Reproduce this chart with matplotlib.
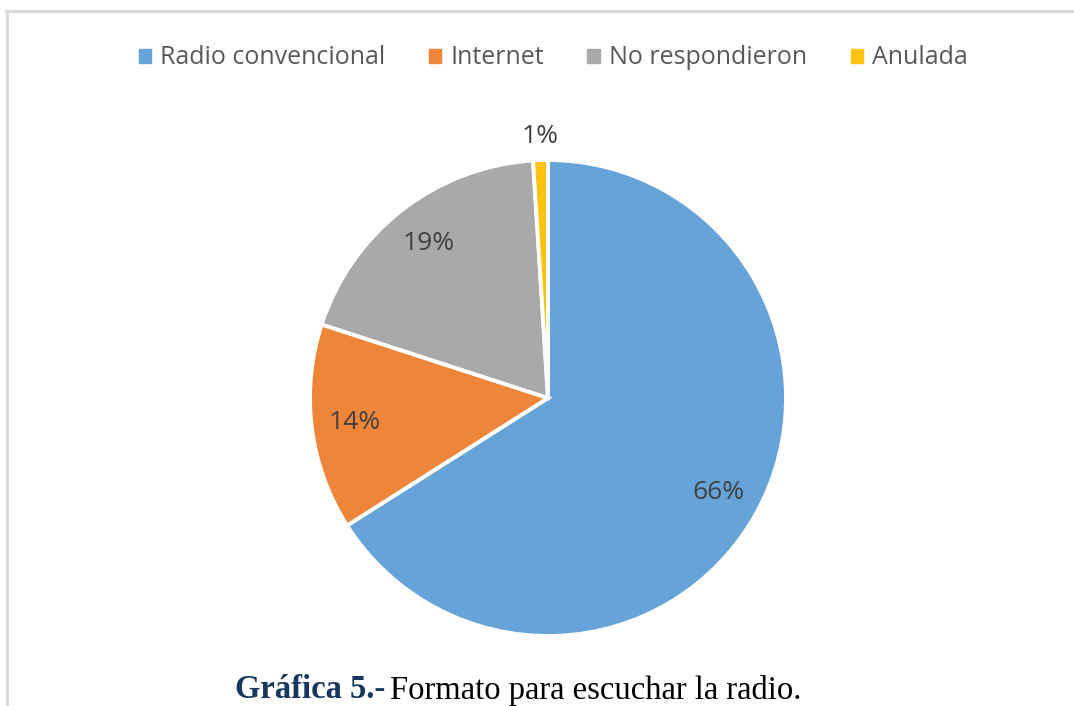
import numpy as np
import matplotlib.pyplot as plt
from matplotlib.lines import Line2D
from matplotlib.patches import Rectangle

categorias = ['Radio convencional', 'Internet', 'No respondieron', 'Anulada']
porcentajes = [66, 14, 19, 1]
colores = ['#66A3D9', '#EE8539', '#A9A9A9', '#FFC20E']

fig = plt.figure(figsize=(10.74, 7.06), dpi=100)
fig.patch.set_facecolor('white')

# marco gris del grafico
fig.add_artist(Line2D([6 / 1074, 1.0], [1 - 11 / 706, 1 - 11 / 706],
                      color='#D9D9D9', lw=2.2, transform=fig.transFigure))
fig.add_artist(Line2D([7.5 / 1074, 7.5 / 1074], [0, 1 - 11 / 706],
                      color='#D9D9D9', lw=2.2, transform=fig.transFigure))

# area del pastel: centro (548, 398), radio ~238 px
r_px = 238
cx, cy = 548, 398
ax = fig.add_axes([(cx - r_px) / 1074, 1 - (cy + r_px) / 706,
                   2 * r_px / 1074, 2 * r_px / 706])
wedges, _ = ax.pie(porcentajes, colors=colores, startangle=90, counterclock=False,
                   wedgeprops=dict(edgecolor='white', linewidth=2.8))
ax.set_xlim(-1, 1)
ax.set_ylim(-1, 1)
ax.set_aspect('equal')
ax.axis('off')

# etiquetas de porcentaje
for w, p in zip(wedges, porcentajes):
    ang = np.deg2rad((w.theta1 + w.theta2) / 2)
    dist = 1.10 if p < 5 else 0.82
    ax.text(dist * np.cos(ang), dist * np.sin(ang), f'{p}%',
            ha='center', va='center', fontsize=19, color='#404040',
            family='Open Sans', clip_on=False)

# leyenda
handles = [Rectangle((0, 0), 1, 1, color=c) for c in colores]
fig.legend(handles, categorias, loc='center', bbox_to_anchor=(0.515, 1 - 58 / 706),
           ncol=4, frameon=False, handlelength=0.5, handleheight=0.5,
           handletextpad=0.35, columnspacing=1.75,
           prop=dict(family='Open Sans', size=18), labelcolor='#595959')

# pie de figura
t1 = fig.text(235 / 1074, 1 - 690 / 706, 'Gráfica 5.-', ha='left', va='center',
              fontsize=23.5, fontweight='bold', color='#17375E', family='Liberation Serif')
fig.canvas.draw()
bb = t1.get_window_extent()
fig.text((bb.x1 + 5) / 1074, 1 - 690 / 706, 'Formato para escuchar la radio.',
         ha='left', va='center', fontsize=23.5, color='black', family='Liberation Serif')

fig.savefig('out.png', dpi=100, facecolor='white')
